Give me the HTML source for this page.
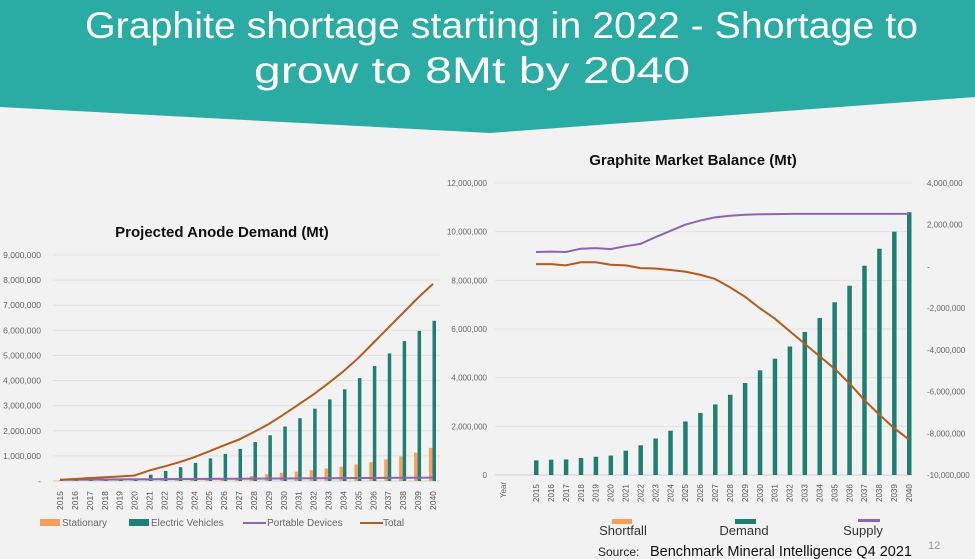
<!DOCTYPE html>
<html><head><meta charset="utf-8"><style>
html,body{margin:0;padding:0;width:975px;height:559px;overflow:hidden;background:#f2f2f2;font-family:"Liberation Sans",sans-serif;}
svg{display:block}
</style></head><body>
<svg width="975" height="559" viewBox="0 0 975 559" xmlns="http://www.w3.org/2000/svg">
<polygon points="0,0 975,0 975,97 490,133 0,107" fill="#2aaba3"/>
<text x="85" y="38" font-size="37" fill="#fff" textLength="833" lengthAdjust="spacingAndGlyphs">Graphite shortage starting in 2022 - Shortage to</text>
<text x="254" y="83" font-size="37" fill="#fff" textLength="436" lengthAdjust="spacingAndGlyphs">grow to 8Mt by 2040</text>
<text x="222" y="237" font-size="15" font-weight="bold" fill="#111" text-anchor="middle">Projected Anode Demand (Mt)</text>
<text x="693" y="165" font-size="15" font-weight="bold" fill="#111" text-anchor="middle">Graphite Market Balance (Mt)</text>
<g id="left"></g>
<g id="right"></g>
<g>
<rect x="40" y="519" width="20" height="7" fill="#f5a15a"/>
<text x="62" y="526" font-size="10" fill="#666">Stationary</text>
<rect x="129" y="519" width="20" height="7" fill="#1f7f74"/>
<text x="151" y="526" font-size="10" fill="#666">Electric Vehicles</text>
<line x1="243" y1="523" x2="266" y2="523" stroke="#8a67b0" stroke-width="2"/>
<text x="267" y="526" font-size="10" fill="#666">Portable Devices</text>
<line x1="360" y1="523" x2="383" y2="523" stroke="#b65b1a" stroke-width="2"/>
<text x="383" y="526" font-size="10" fill="#666">Total</text>
</g>
<g>
<rect x="612" y="519" width="20" height="5" fill="#f5a15a"/>
<text x="623" y="535" font-size="13" fill="#333" text-anchor="middle">Shortfall</text>
<rect x="735" y="519" width="21" height="5" fill="#1f7f74"/>
<text x="744" y="535" font-size="13" fill="#333" text-anchor="middle">Demand</text>
<rect x="858" y="519" width="22" height="3" fill="#8a67b0"/>
<text x="863" y="535" font-size="13" fill="#333" text-anchor="middle">Supply</text>
</g>
<text x="598" y="556" font-size="12" fill="#222">Source:</text>
<text x="650" y="556" font-size="14.5" fill="#111">Benchmark Mineral Intelligence Q4 2021</text>
<text x="928" y="549" font-size="11" fill="#999">12</text>
</svg>
<script>
const years=[2015,2016,2017,2018,2019,2020,2021,2022,2023,2024,2025,2026,2027,2028,2029,2030,2031,2032,2033,2034,2035,2036,2037,2038,2039,2040];
const evDemand=[0.02,0.03,0.04,0.05,0.07,0.1,0.25,0.4,0.55,0.72,0.9,1.08,1.28,1.55,1.82,2.17,2.5,2.88,3.25,3.65,4.1,4.58,5.08,5.57,5.98,6.38];
const stationary=[0.01,0.01,0.01,0.02,0.02,0.03,0.03,0.04,0.05,0.05,0.06,0.08,0.12,0.2,0.27,0.33,0.37,0.43,0.5,0.57,0.66,0.75,0.86,0.98,1.13,1.32];
const portable=[0.05,0.055,0.06,0.06,0.065,0.07,0.07,0.075,0.08,0.08,0.085,0.09,0.09,0.095,0.1,0.1,0.105,0.11,0.11,0.115,0.12,0.12,0.125,0.13,0.13,0.135];
const total=[0.05,0.08,0.12,0.15,0.18,0.22,0.42,0.58,0.75,0.95,1.18,1.42,1.65,1.95,2.27,2.65,3.05,3.45,3.9,4.37,4.9,5.5,6.1,6.7,7.3,7.85];
const leftTicks=[0,1,2,3,4,5,6,7,8,9];
const demand=[0.6,0.63,0.64,0.7,0.75,0.8,1.0,1.22,1.5,1.82,2.2,2.55,2.9,3.3,3.78,4.3,4.78,5.28,5.88,6.45,7.1,7.78,8.6,9.3,10.0,10.8];
const supply=[0.69,0.71,0.69,0.85,0.88,0.83,0.97,1.08,1.4,1.7,2.0,2.2,2.35,2.43,2.48,2.5,2.51,2.52,2.52,2.52,2.52,2.52,2.52,2.52,2.52,2.52];
const shortfall=[0.11,0.11,0.05,0.2,0.2,0.08,0.05,-0.08,-0.1,-0.17,-0.25,-0.4,-0.6,-1.0,-1.45,-2.0,-2.5,-3.1,-3.7,-4.3,-4.9,-5.6,-6.4,-7.1,-7.75,-8.3];
const balLeftTicks=[0,2,4,6,8,10,12];
const balRightTicks=[-10,-8,-6,-4,-2,0,2,4];
const NS='http://www.w3.org/2000/svg';
function mk(p,tag,a){const e=document.createElementNS(NS,tag);for(const k in a)e.setAttribute(k,a[k]);p.appendChild(e);return e;}
function fmt(v){if(v===0)return null;const s=Math.abs(v*1e6).toLocaleString('en-US');return (v<0?'-':'')+s;}
const L=document.getElementById('left');
const lx=i=>60+i*(433-60)/(years.length-1);
const ly=v=>481-v*(481-255)/9;
leftTicks.forEach(t=>{
 const g=mk(L,'line',{x1:53,x2:440,y1:ly(t),y2:ly(t),stroke:t===0?'#d0d0d0':'#e2e2e2','stroke-width':1});
 
 
 const tx=mk(L,'text',{x:41,y:ly(t)+3,'font-size':8.5,fill:'#666','text-anchor':'end'});
 tx.textContent=t===0?'-':fmt(t);
 
 
});
years.forEach((y,i)=>{
 const s=mk(L,'rect',{x:lx(i)-4,y:ly(stationary[i]),width:3.5,height:ly(0)-ly(stationary[i]),fill:'#f5a15a'});
 
 
 const b=mk(L,'rect',{x:lx(i)-0.5,y:ly(evDemand[i]),width:3.5,height:ly(0)-ly(evDemand[i]),fill:'#1f7f74'});
 
 
 const t=mk(L,'text',{transform:`translate(${lx(i)+3},${510}) rotate(-90)`,'font-size':8.5,fill:'#555'});
 t.textContent=y;
 
 
});
const pp=mk(L,'polyline',{points:portable.map((v,i)=>lx(i)+','+ly(v)).join(' '),fill:'none',stroke:'#8a67b0','stroke-width':2});


const tp=mk(L,'polyline',{points:total.map((v,i)=>lx(i)+','+ly(v)).join(' '),fill:'none',stroke:'#b65b1a','stroke-width':2});


const R=document.getElementById('right');
const rx=i=>536+i*(909-536)/(years.length-1);
const ryL=v=>475-v*(475-183)/12;
const ryR=v=>475-(v+10)*(475-183)/14;
balLeftTicks.forEach(t=>{
 const g=mk(R,'line',{x1:495,x2:912,y1:ryL(t),y2:ryL(t),stroke:t===0?'#d0d0d0':'#e2e2e2','stroke-width':1});
 
 
 const tx=mk(R,'text',{x:487,y:ryL(t)+3,'font-size':8,fill:'#666','text-anchor':'end'});
 tx.textContent=t===0?'0':fmt(t);
 
 
});
balRightTicks.forEach(t=>{
 const tx=mk(R,'text',{x:927,y:ryR(t)+3,'font-size':8,fill:'#666'});
 tx.textContent=t===0?'-':fmt(t);
 
 
});
const yl=mk(R,'text',{transform:'translate(506,498) rotate(-90)','font-size':8,fill:'#666'});
yl.textContent='Year';


years.forEach((y,i)=>{
 const b=mk(R,'rect',{x:rx(i)-2,y:ryL(demand[i]),width:4.5,height:ryL(0)-ryL(demand[i]),fill:'#1f7f74'});
 
 
 const t=mk(R,'text',{transform:`translate(${rx(i)+3},${502}) rotate(-90)`,'font-size':8,fill:'#555'});
 t.textContent=y;
 
 
});
const sp=mk(R,'polyline',{points:supply.map((v,i)=>rx(i)+','+ryR(v)).join(' '),fill:'none',stroke:'#8a67b0','stroke-width':2});


const sf=mk(R,'polyline',{points:shortfall.map((v,i)=>rx(i)+','+ryR(v)).join(' '),fill:'none',stroke:'#b65b1a','stroke-width':2});


</script>
</body></html>
